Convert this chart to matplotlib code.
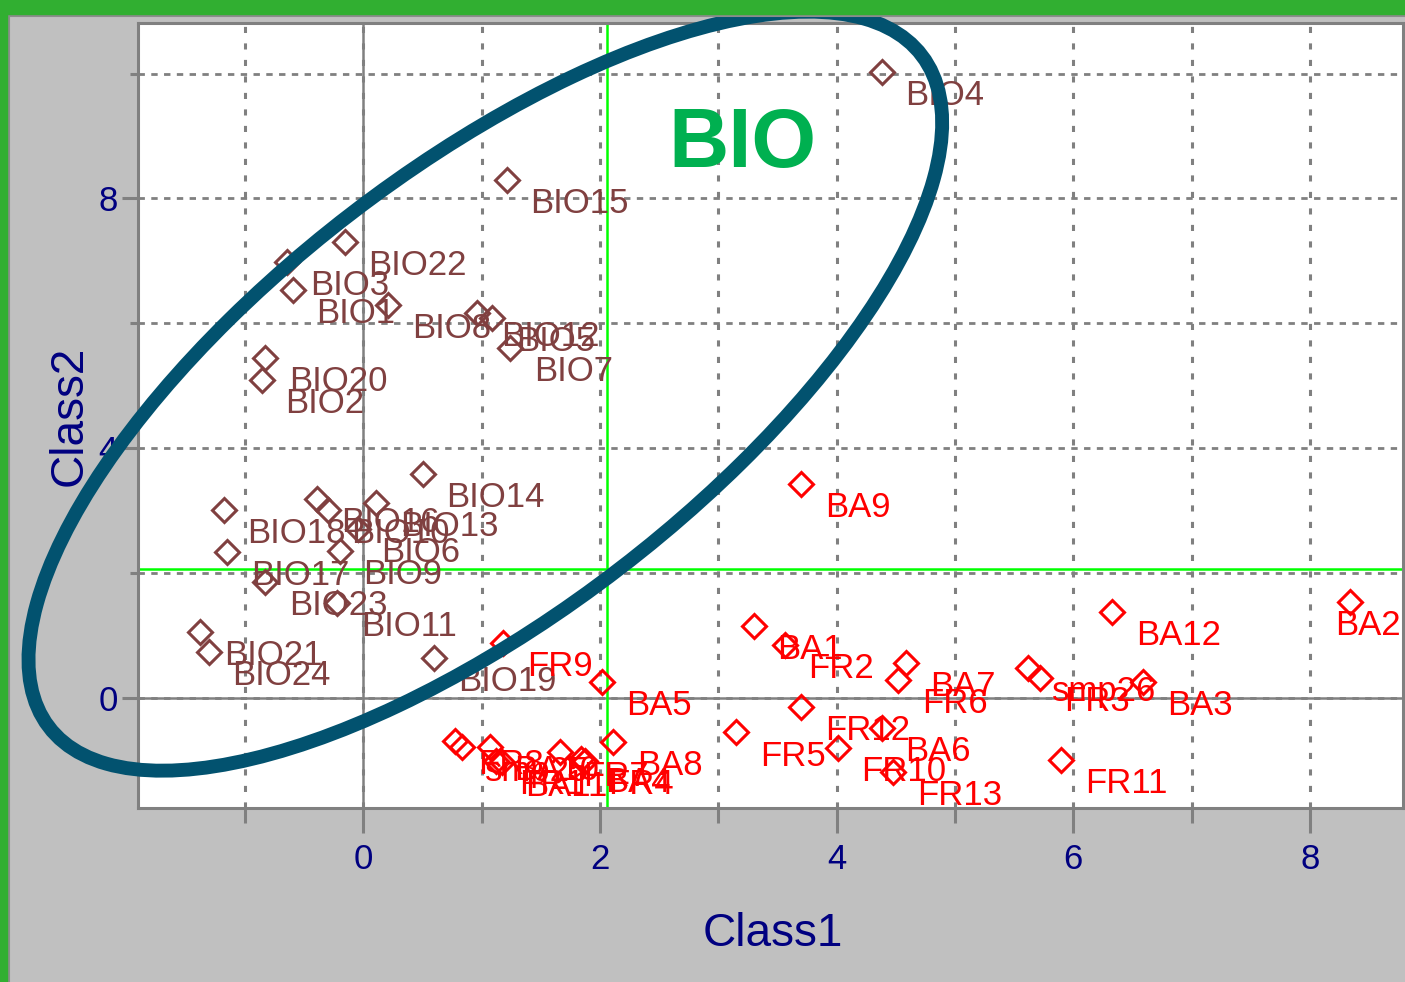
import matplotlib.pyplot as plt
from matplotlib.patches import Ellipse, Rectangle
from matplotlib.lines import Line2D

plt.rcParams['font.family'] = ['Liberation Sans', 'DejaVu Sans']

# BIO variables (Class1, Class2)
bio_names = ['BIO1', 'BIO2', 'BIO3', 'BIO4', 'BIO5', 'BIO6', 'BIO7', 'BIO8',
             'BIO9', 'BIO10', 'BIO11', 'BIO12', 'BIO13', 'BIO14', 'BIO15', 'BIO16',
             'BIO17', 'BIO18', 'BIO19', 'BIO20', 'BIO21', 'BIO22', 'BIO23', 'BIO24']
bio_x = [-0.60, -0.86, -0.65, 4.38, 1.09, -0.05, 1.24, 0.21,
         -0.20, -0.30, -0.22, 0.96, 0.11, 0.50, 1.21, -0.39,
         -1.15, -1.18, 0.60, -0.83, -1.38, -0.16, -0.83, -1.31]
bio_y = [6.53, 5.09, 6.98, 10.02, 6.08, 2.70, 5.60, 6.29,
         2.35, 3.00, 1.52, 6.16, 3.12, 3.58, 8.30, 3.18,
         2.33, 3.01, 0.64, 5.44, 1.05, 7.30, 1.85, 0.73]

# sample sites (Class1, Class2)
site_names = ['BA1', 'FR2', 'BA2', 'BA3', 'BA5', 'BA6', 'BA7', 'BA8', 'BA9', 'BA12',
              'FR3', 'FR5', 'FR6', 'FR9', 'FR10', 'FR11', 'FR12', 'FR13', 'smp26',
              'FR8', 'smp25', 'BA10', 'FR1', 'BA11', 'FR7', 'BA4', 'FR4']
site_x = [3.30, 3.56, 8.34, 6.59, 2.02, 4.38, 4.59, 2.11, 3.70, 6.33,
          5.72, 3.15, 4.52, 1.18, 4.01, 5.90, 3.70, 4.48, 5.62,
          0.77, 0.83, 1.07, 1.12, 1.17, 1.66, 1.84, 1.87]
site_y = [1.15, 0.84, 1.53, 0.25, 0.25, -0.49, 0.55, -0.71, 3.42, 1.37,
          0.32, -0.56, 0.28, 0.88, -0.81, -1.00, -0.15, -1.19, 0.48,
          -0.69, -0.80, -0.79, -1.02, -1.04, -0.88, -0.98, -1.01]

# centroid reference lines
mean_x = 2.06
mean_y = 2.06

fig = plt.figure(figsize=(14.05, 9.82), dpi=100, facecolor='#c0c0c0')

# window frame
fig.patches.append(Rectangle((0, 1 - 14 / 982), 1, 14 / 982, transform=fig.transFigure,
                             color='#31af31', zorder=5))
fig.patches.append(Rectangle((0, 0), 7 / 1405, 1, transform=fig.transFigure,
                             color='#31af31', zorder=5))
fig.lines.append(Line2D([8 / 1405, 1], [1 - 15.5 / 982] * 2, transform=fig.transFigure,
                        color='#8c8c8c', lw=1.5))
fig.lines.append(Line2D([8.5 / 1405] * 2, [0, 1 - 15 / 982], transform=fig.transFigure,
                        color='#8c8c8c', lw=1.5))

ax = fig.add_axes([138 / 1405, 174 / 982, 1265 / 1405, 785 / 982])
ax.set_facecolor('white')
ax.set_xlim(-1.906, 8.787)
ax.set_ylim(-1.77, 10.81)

grey = '#808080'
for s in ax.spines.values():
    s.set_color(grey)
    s.set_linewidth(2.2)

# grid
for gx in range(-1, 9):
    if gx == 0:
        ax.axvline(0, color=grey, lw=1.8, zorder=1)
    ax.axvline(gx, color=grey, lw=2.2, ls=(0, (2.0, 3.4)), zorder=1)
for gy in range(0, 11, 2):
    if gy == 0:
        ax.axhline(0, color=grey, lw=1.8, zorder=1)
    ax.axhline(gy, color=grey, lw=2.0, ls=(0, (2.3, 2.3)), zorder=1)

ax.axvline(mean_x, color='#00ff00', lw=1.8, zorder=2)
ax.axhline(mean_y, color='#00ff00', lw=1.8, zorder=2)

# ticks
ax.set_xticks([0, 2, 4, 6, 8])
ax.set_xticks([-1, 1, 3, 5, 7], minor=True)
ax.set_yticks([0, 4, 8])
ax.set_yticks([2, 6, 10], minor=True)
ax.tick_params(axis='x', which='major', length=18, width=2.2, color=grey,
               labelsize=25, labelcolor='#000080', pad=7)
ax.tick_params(axis='x', which='minor', length=11, width=2.2, color=grey)
ax.tick_params(axis='y', which='major', length=11.5, width=2.2, color=grey,
               labelsize=25, labelcolor='#000080', pad=3)
ax.tick_params(axis='y', which='minor', length=6, width=2.2, color=grey)

ax.set_xlabel('Class1', fontsize=33, color='#000080')
ax.set_ylabel('Class2', fontsize=33, color='#000080')
ax.xaxis.set_label_coords(0.502, -0.133)
ax.yaxis.set_label_coords(-0.037, 0.5)

# points and labels
bio_col = '#804040'
site_col = '#ff0000'
ax.plot(bio_x, bio_y, 'D', ms=12, mfc='none', mec=bio_col, mew=2.2, zorder=3)
ax.plot(site_x, site_y, 'D', ms=12, mfc='none', mec=site_col, mew=2.2, zorder=3)

nudge = {'BA2': (-11, -17)}
for n, x, y in zip(bio_names, bio_x, bio_y):
    ax.annotate(n, (x, y), xytext=nudge.get(n, (17, -17)), textcoords='offset points',
                ha='left', va='center', fontsize=25, color=bio_col, zorder=4)
for n, x, y in zip(site_names, site_x, site_y):
    ax.annotate(n, (x, y), xytext=nudge.get(n, (17, -17)), textcoords='offset points',
                ha='left', va='center', fontsize=25, color=site_col, zorder=4)

# highlight of the BIO group
ax.add_patch(Ellipse((1.03, 4.91), 13.55, 4.90, angle=61.8, fill=False,
                     ec='#02526f', lw=10, clip_on=False, zorder=6))
ax.text(3.20, 8.86, 'BIO', fontsize=60, fontweight='bold', color='#00b050',
        ha='center', va='center', zorder=6)

fig.savefig('out.png', dpi=100, facecolor=fig.get_facecolor())
